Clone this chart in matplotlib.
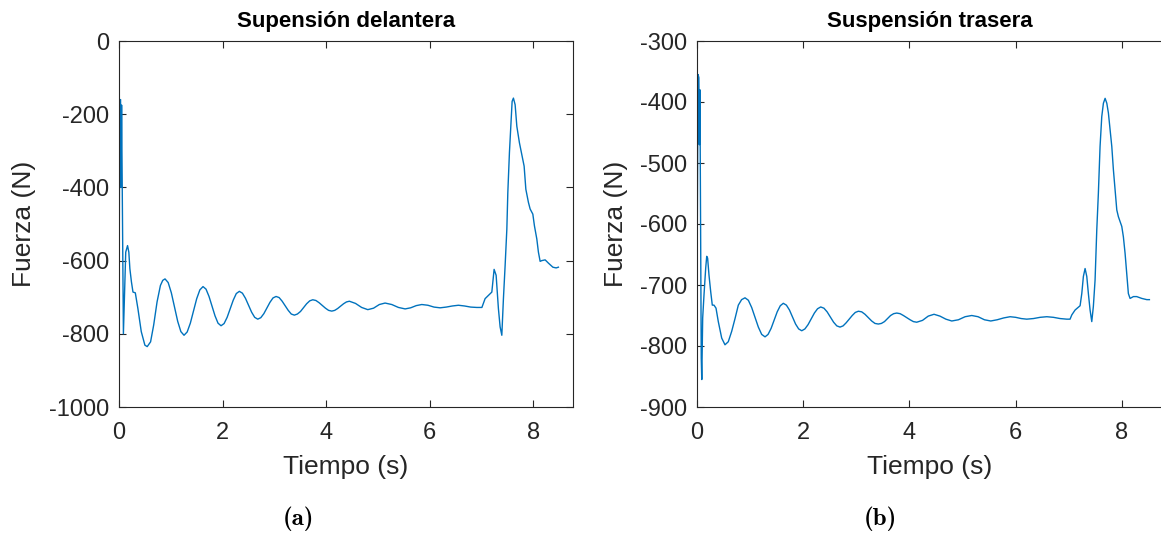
import os
import matplotlib
matplotlib.use('Agg')
import matplotlib.pyplot as plt
from matplotlib.font_manager import FontProperties

# Suspension delantera (front) - tiempo (s) / fuerza (N)
t_front = [0.0, 0.015, 0.03, 0.04, 0.05, 0.085, 0.095, 0.115, 0.13, 0.165,
           0.19, 0.21, 0.24, 0.27, 0.315, 0.365, 0.43, 0.50, 0.545, 0.61,
           0.67, 0.735, 0.80, 0.845, 0.889, 0.950, 1.011, 1.134, 1.195, 1.256,
           1.317, 1.378, 1.501, 1.562, 1.623, 1.681, 1.739, 1.855, 1.913, 1.971,
           2.030, 2.089, 2.207, 2.266, 2.325, 2.384, 2.443, 2.562, 2.621, 2.680,
           2.739, 2.798, 2.916, 2.975, 3.034, 3.093, 3.152, 3.269, 3.328, 3.387,
           3.446, 3.506, 3.624, 3.684, 3.743, 3.804, 3.865, 3.988, 4.049, 4.110,
           4.167, 4.223, 4.337, 4.393, 4.450, 4.569, 4.687, 4.806, 4.917, 5.029,
           5.140, 5.269, 5.398, 5.527, 5.634, 5.742, 5.849, 5.967, 6.085, 6.203,
           6.321, 6.439, 6.557, 6.675, 6.794, 6.912, 7.01, 7.072, 7.202, 7.246,
           7.285, 7.329, 7.362, 7.395, 7.426, 7.459, 7.492, 7.511, 7.542, 7.569,
           7.594, 7.619, 7.652, 7.685, 7.735, 7.781, 7.826, 7.859, 7.909, 7.942,
           7.994, 8.025, 8.071, 8.102, 8.135, 8.168, 8.232, 8.296, 8.381, 8.444,
           8.488]
f_front = [-720, -165, -160, -400, -175, -800, -750, -640, -577, -559,
           -577, -622, -658, -686, -688, -731, -794, -831, -835, -822,
           -776, -713, -668, -654, -650, -660, -688, -766, -794, -804,
           -795, -771, -704, -680, -671, -678, -698, -751, -771, -778,
           -772, -755, -708, -690, -684, -689, -703, -741, -755, -760,
           -756, -745, -714, -702, -698, -701, -711, -736, -746, -749,
           -746, -739, -718, -710, -707, -709, -715, -730, -736, -738,
           -736, -731, -718, -713, -711, -717, -728, -734, -730, -720,
           -716, -720, -728, -732, -729, -723, -720, -722, -727, -729,
           -727, -724, -722, -724, -727, -728, -728, -704, -686, -624,
           -640, -731, -781, -804, -704, -613, -514, -414, -305, -233,
           -165, -156, -174, -233, -278, -310, -342, -405, -441, -459,
           -473, -505, -541, -577, -602, -600, -598, -607, -618, -620,
           -618]

# Suspension trasera (rear)
t_rear = [0.0, 0.02, 0.035, 0.045, 0.055, 0.08, 0.09, 0.107, 0.132, 0.164,
          0.183, 0.20, 0.226, 0.258, 0.288, 0.32, 0.358, 0.401, 0.465, 0.527,
          0.589, 0.653, 0.716, 0.778, 0.84, 0.904, 0.967, 1.030, 1.155, 1.218,
          1.281, 1.338, 1.396, 1.510, 1.568, 1.625, 1.683, 1.741, 1.856, 1.914,
          1.972, 2.032, 2.091, 2.210, 2.269, 2.329, 2.390, 2.450, 2.572, 2.632,
          2.693, 2.751, 2.808, 2.923, 2.980, 3.038, 3.101, 3.163, 3.289, 3.351,
          3.414, 3.472, 3.530, 3.645, 3.703, 3.761, 3.824, 3.886, 4.012, 4.074,
          4.137, 4.246, 4.354, 4.463, 4.574, 4.686, 4.797, 4.922, 5.048, 5.173,
          5.292, 5.412, 5.531, 5.652, 5.774, 5.895, 6.0, 6.104, 6.209, 6.335,
          6.460, 6.586, 6.711, 6.836, 6.962, 7.024, 7.057, 7.119, 7.213, 7.245,
          7.275, 7.307, 7.339, 7.369, 7.401, 7.433, 7.463, 7.495, 7.527, 7.557,
          7.589, 7.621, 7.652, 7.684, 7.716, 7.746, 7.778, 7.810, 7.840, 7.872,
          7.904, 7.934, 7.998, 8.028, 8.060, 8.092, 8.122, 8.154, 8.217, 8.279,
          8.374, 8.469, 8.518]
f_rear = [-700, -355, -360, -470, -380, -820, -855, -754, -716, -672,
          -653, -656, -684, -711, -733, -733, -738, -760, -787, -798,
          -793, -776, -755, -733, -724, -721, -725, -737, -769, -781,
          -785, -781, -771, -744, -734, -730, -733, -741, -764, -772,
          -775, -772, -765, -746, -739, -736, -738, -744, -761, -767,
          -769, -767, -762, -750, -745, -743, -744, -748, -759, -763,
          -764, -763, -760, -750, -747, -746, -747, -750, -757, -760,
          -761, -758, -751, -748, -751, -756, -759, -757, -752, -750,
          -752, -757, -759, -757, -754, -752, -753, -755, -756, -755,
          -753, -752, -753, -755, -756, -756, -749, -741, -734, -714,
          -686, -673, -686, -714, -741, -760, -735, -692, -610, -550,
          -473, -424, -402, -394, -402, -418, -446, -473, -511, -544,
          -577, -588, -604, -621, -648, -681, -714, -722, -719, -719,
          -722, -724, -724]

titles = ['Supensión delantera', 'Suspensión trasera']
captions = ['(a)', '(b)']
xticks = [0, 2, 4, 6, 8]
yticks_front = [0, -200, -400, -600, -800, -1000]
yticks_rear = [-300, -400, -500, -600, -700, -800, -900]

plt.rcParams['font.family'] = ['Liberation Sans', 'DejaVu Sans']
plt.rcParams['axes.unicode_minus'] = False

grey = '#262626'
line_color = '#0072BD'

# computer modern bold for the sub-figure captions
cmb = FontProperties(
    fname=os.path.join(matplotlib.get_data_path(), 'fonts', 'ttf', 'cmb10.ttf'),
    size=18)

fig = plt.figure(figsize=(11.61, 5.35), dpi=100)
ax1 = fig.add_axes([119 / 1161, 128 / 535, 454 / 1161, 366 / 535])
# the right panel runs past the edge of the picture
ax2 = fig.add_axes([697 / 1161, 128 / 535, 478 / 1161, 366 / 535])

panels = [(ax1, t_front, f_front, yticks_front, (-1000, 0), 8.77, -0.182),
          (ax2, t_rear, f_rear, yticks_rear, (-900, -300), 9.0, -0.144)]

for i, (ax, t, f, yt, ylim, xmax, ylab_x) in enumerate(panels):
    ax.plot(t, f, color=line_color, lw=1.0)
    ax.set_xlim(0, xmax)
    ax.set_ylim(*ylim)
    ax.set_xticks(xticks)
    ax.set_yticks(yt)
    ax.tick_params(
        direction='in',
        top=True,
        right=True,
        length=5,
        width=0.8,
        colors=grey,
        labelsize=17)
    ax.tick_params(axis='x', pad=11)
    ax.tick_params(axis='y', pad=7)
    for sp in ax.spines.values():
        sp.set_color(grey)
        sp.set_linewidth(0.8)
    ax.set_title(
        titles[i],
        fontsize=16,
        fontweight='bold',
        color='black',
        pad=10)
    ax.set_xlabel('Tiempo (s)', fontsize=19, color=grey)
    ax.set_ylabel('Fuerza (N)', fontsize=19, color=grey)
    ax.yaxis.set_label_coords(ylab_x, 0.5)

# keep the x labels centred on the visible part of each panel
ax1.xaxis.set_label_coords(0.5, -0.13)
ax2.xaxis.set_label_coords(466 / 478 / 2, -0.13)
ax2.title.set_x(466 / 478 / 2)

fig.text(298 / 1161, 1 - 519 / 535, captions[0], fontproperties=cmb,
         ha='center', va='center')
fig.text(880 / 1161, 1 - 519 / 535, captions[1], fontproperties=cmb,
         ha='center', va='center')

fig.savefig('out.png', dpi=100)
